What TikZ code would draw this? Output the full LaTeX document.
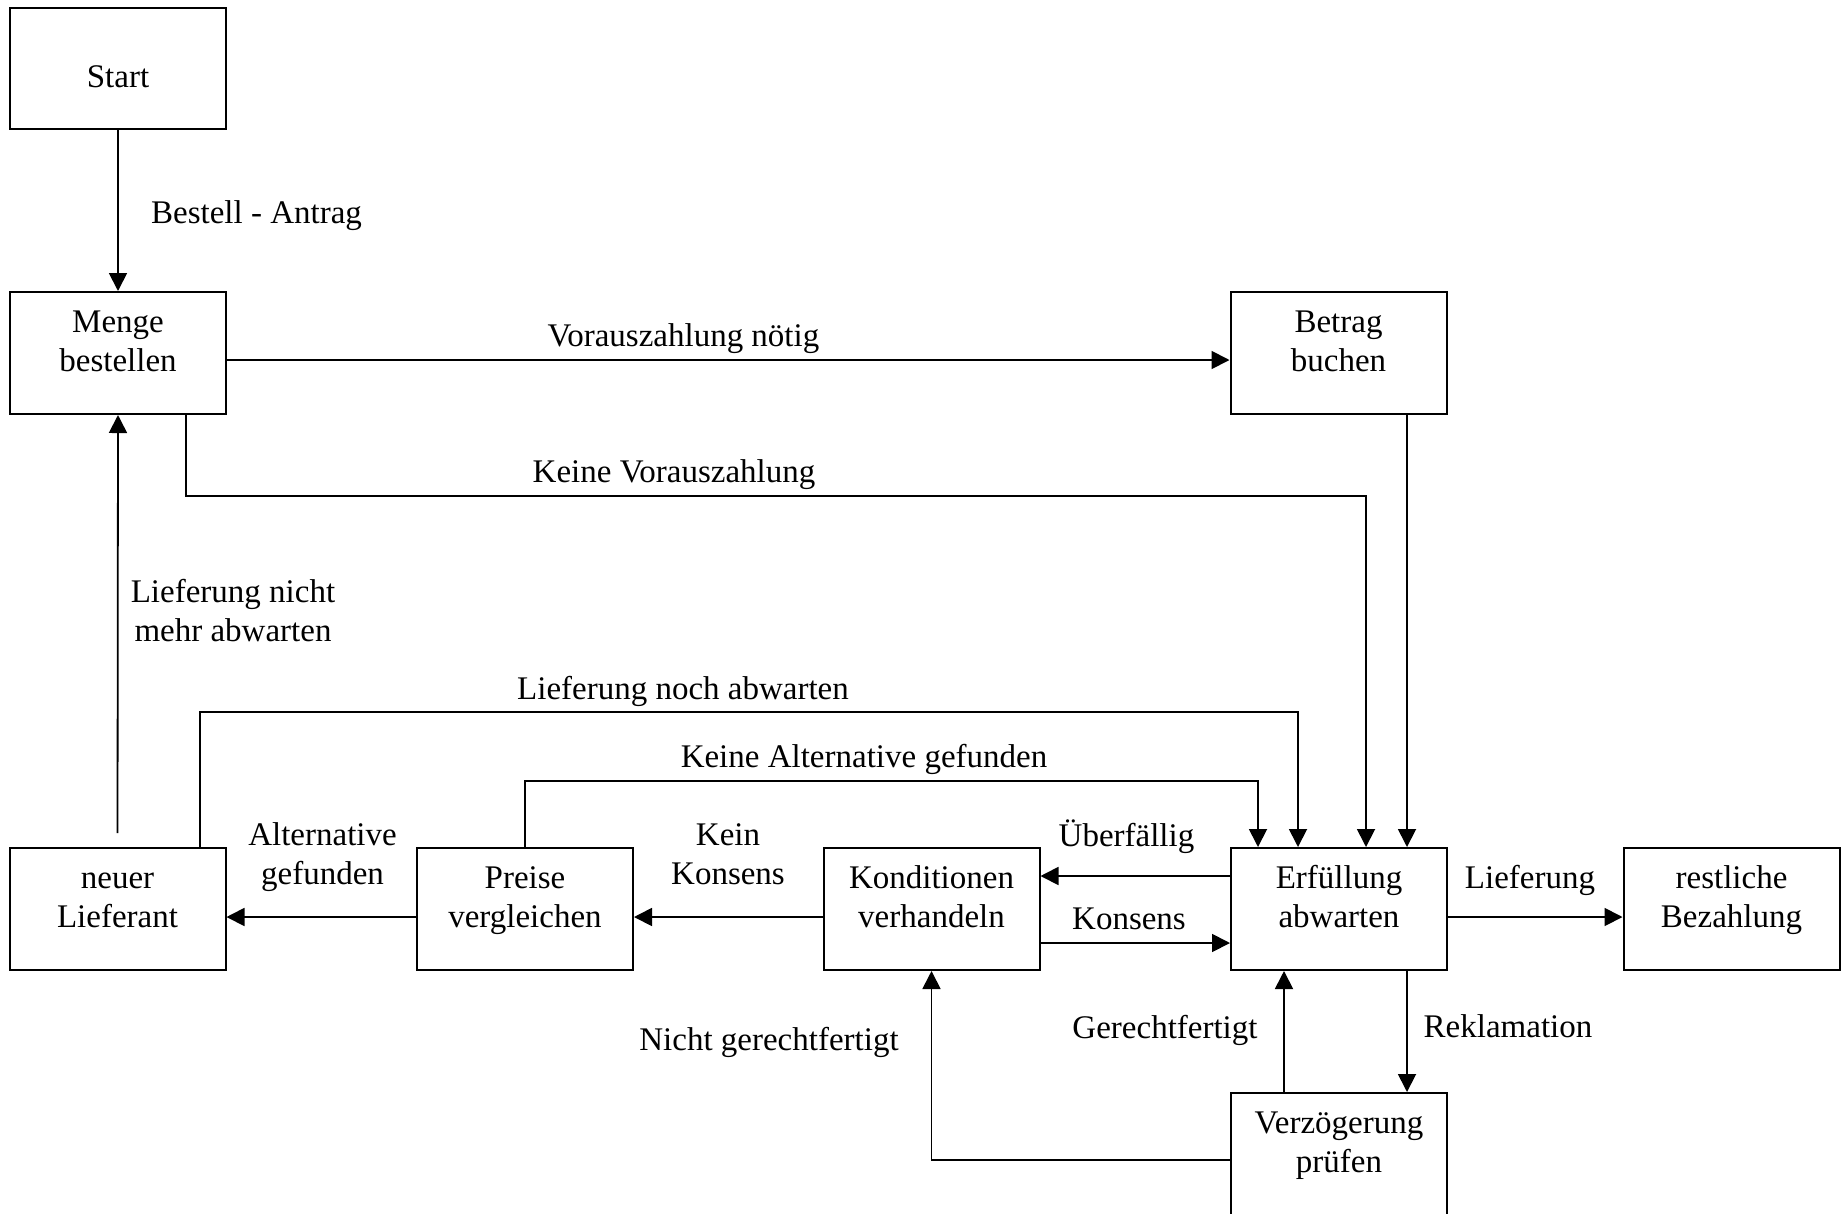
\documentclass[tikz,border=0pt]{standalone}
\usepackage{fontspec}
\setmainfont{Liberation Serif}
\usetikzlibrary{arrows.meta,calc}
\newcommand{\lns}[1]{\begin{tabular}{@{}c@{}}#1\end{tabular}}
\begin{document}
\begin{tikzpicture}[x=1pt,y=-1pt,
  box/.style={draw,line width=2pt,minimum width=216pt,minimum height=122pt,inner sep=0pt},
  lbl/.style={inner sep=0pt,font=\fontsize{33}{39}\selectfont},
  ln/.style={line width=1.8pt},
  arr/.style={line width=1.8pt,-{Triangle[length=18pt,width=18pt]}}]
\fill[white] (0,0) rectangle (1842,1213);
\useasboundingbox (0,0) rectangle (1842,1213);
\clip (0,0) rectangle (1842,1213);

% state boxes
\node[box,minimum height=121pt] (start) at (118,68.5) {};
\node[box] (menge)  at (118,353) {};
\node[box] (betrag) at (1338.5,353) {};
\node[box] (neuer)  at (117.5,909) {};
\node[box] (preise) at (525,909) {};
\node[box] (kond)   at (931.5,909) {};
\node[box] (erf)    at (1339,909) {};
\node[box] (rest)   at (1731.5,909) {};
\node[box] (verz)   at (1339,1154) {};

% box texts
\node[lbl] (start-t)  at (118,79.5)    {\lns{Start}};
\node[lbl] (menge-t)  at (118,343.7)   {\lns{Menge\\bestellen}};
\node[lbl] (betrag-t) at (1338.5,343.7){\lns{Betrag\\buchen}};
\node[lbl] (neuer-t)  at (117.5,899.7) {\lns{neuer\\Lieferant}};
\node[lbl] (preise-t) at (525,899.7)   {\lns{Preise\\vergleichen}};
\node[lbl] (kond-t)   at (931.5,899.7) {\lns{Konditionen\\verhandeln}};
\node[lbl] (erf-t)    at (1339,899.7)  {\lns{Erfüllung\\abwarten}};
\node[lbl] (rest-t)   at (1731.5,899.7){\lns{restliche\\Bezahlung}};
\node[lbl] (verz-t)   at (1339,1144.7) {\lns{Verzögerung\\prüfen}};

% heights of the routed connectors
\coordinate (lvKV) at (0,496);
\coordinate (lvLN) at (0,712);
\coordinate (lvKA) at (0,781);
\coordinate (lvVN) at (0,1160);

% ports on the box borders
\coordinate (kvA) at ($(menge.south)+(68,0)$);
\coordinate (kvB) at ($(erf.north)+(27,0)$);
\coordinate (lnA) at ($(neuer.north)+(82.5,0)$);
\coordinate (lnB) at ($(erf.north)+(-41,0)$);
\coordinate (kaB) at ($(erf.north)+(-81,0)$);

% connectors
\draw[arr] (start.south) -- (menge.north);
\draw[arr] ($(menge.east)+(0,7)$) -- ($(betrag.west)+(0,7)$);
\draw[arr] (kvA) -- (kvA |- lvKV) -- (kvB |- lvKV) -- (kvB);
\draw[arr] ($(betrag.south)+(68.5,0)$) -- ($(erf.north)+(68,0)$);
\draw[arr,shorten <=14pt] (neuer.north) -- (menge.south);
\draw[arr] (lnA) -- (lnA |- lvLN) -- (lnB |- lvLN) -- (lnB);
\draw[arr] (preise.north) -- (preise.north |- lvKA) -- (kaB |- lvKA) -- (kaB);
\draw[arr] ($(preise.west)+(0,8)$) -- ($(neuer.east)+(0,8)$);
\draw[arr] ($(kond.west)+(0,8)$) -- ($(preise.east)+(0,8)$);
\draw[arr] ($(erf.west)+(0,-33)$) -- ($(kond.east)+(0,-33)$);
\draw[arr] ($(kond.east)+(0,34)$) -- ($(erf.west)+(0,34)$);
\draw[arr] ($(erf.east)+(0,8)$) -- ($(rest.west)+(0,8)$);
\draw[arr] ($(erf.south)+(68,0)$) -- ($(verz.north)+(68,0)$);
\draw[arr] ($(verz.north)+(-55,0)$) -- ($(erf.south)+(-55,0)$);
\draw[arr] (verz.west |- lvVN) -- (kond.south |- lvVN) -- (kond.south);

% connector labels
\node[lbl] (l-antrag)  at (256.5,215.2) {\lns{Bestell - Antrag}};
\node[lbl] (l-vzn)     at (683.5,338.9) {\lns{Vorauszahlung nötig}};
\node[lbl] (l-kvz)     at (674,474.2)   {\lns{Keine Vorauszahlung}};
\node[lbl] (l-lnm)     at (233,614.4)   {\lns{Lieferung nicht\\mehr abwarten}};
\node[lbl] (l-lna)     at (683,691.5)   {\lns{Lieferung noch abwarten}};
\node[lbl] (l-kag)     at (864,759.9)   {\lns{Keine Alternative gefunden}};
\node[lbl] (l-ag)      at (322.5,856.7) {\lns{Alternative\\gefunden}};
\node[lbl] (l-kk)      at (728,856.7)   {\lns{Kein\\Konsens}};
\node[lbl] (l-ueb)     at (1126.5,838.9){\lns{Überfällig}};
\node[lbl] (l-kons)    at (1129,921.2)  {\lns{Konsens}};
\node[lbl] (l-lief)    at (1530,880.2)  {\lns{Lieferung}};
\node[lbl] (l-ng)      at (769,1042.2)  {\lns{Nicht gerechtfertigt}};
\node[lbl] (l-ger)     at (1165,1030.2) {\lns{Gerechtfertigt}};
\node[lbl] (l-rek)     at (1508,1029.2) {\lns{Reklamation}};
\end{tikzpicture}
\end{document}
